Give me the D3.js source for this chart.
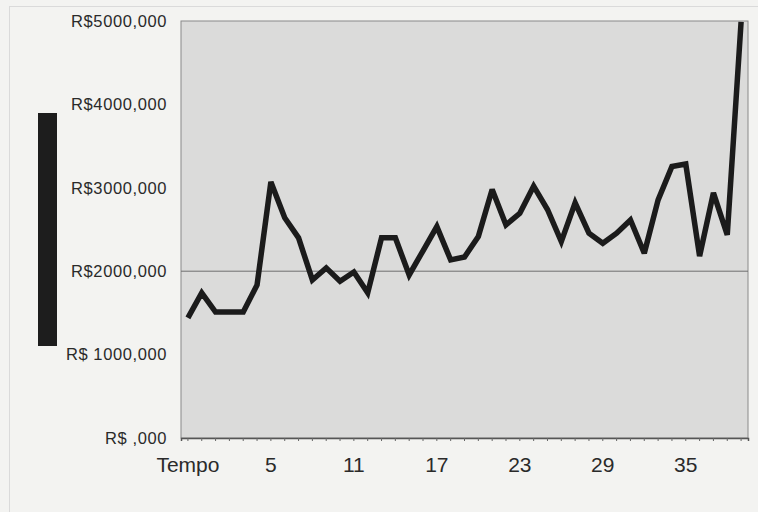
<!DOCTYPE html>
<html>
<head>
<meta charset="utf-8">
<script src="https://cdn.jsdelivr.net/npm/d3@7"></script>
<style>
    body { margin: 0; background: #f3f3f1; }
    svg { display: block; }
</style>
</head>
<body>
<div class="Canvas"></div>
<script>
// categories along the x axis (first one is the header cell that ended up in the range)
const categories = ['Tempo'].concat(d3.range(0, 40).map(String));
const shownLabels = ['Tempo', '5', '11', '17', '23', '29', '35'];

// values, one per category
const values = [
    1440, 1740, 1510, 1510, 1510, 1835, 3070, 2640, 2400, 1895,
    2040, 1880, 1990, 1740, 2400, 2400, 1955, 2245, 2535, 2135,
    2170, 2415, 2980, 2555, 2695, 3020, 2740, 2355, 2820, 2455,
    2335, 2455, 2615, 2215, 2855, 3255, 3285, 2180, 2940, 2435,
    4990,
];

const yTicks = [0, 1000, 2000, 3000, 4000, 5000];
const yTickLabels = ['R$ ,000', 'R$ 1000,000', 'R$2000,000', 'R$3000,000', 'R$4000,000', 'R$5000,000'];
const gridValues = [2000];

const width = 758;
const height = 512;
const plot = { left: 181, right: 748, top: 21, bottom: 438 };

let svg = d3.select('.Canvas').append('svg').attr('width', width).attr('height', height);

// faint outer frame of the chart object
svg.append('rect')
    .attr('x', 9.5)
    .attr('y', 6.5)
    .attr('width', width)
    .attr('height', height)
    .attr('fill', 'none')
    .attr('stroke', '#dadada');

// legend key with no text
svg.append('rect')
    .attr('x', 38)
    .attr('y', 113)
    .attr('width', 19)
    .attr('height', 233)
    .attr('fill', '#1d1d1d');

let x = d3.scaleBand().domain(categories).range([plot.left, plot.right]);
let y = d3.scaleLinear().domain([0, 5000]).range([plot.bottom, plot.top]);

let g = svg.append('g');

g.append('rect')
    .attr('x', plot.left)
    .attr('y', plot.top)
    .attr('width', plot.right - plot.left)
    .attr('height', plot.bottom - plot.top)
    .attr('fill', '#dbdbda')
    .attr('stroke', '#8a8a8a')
    .attr('stroke-width', 1);

g.selectAll('line.grid')
    .data(gridValues)
    .enter()
    .append('line')
    .attr('class', 'grid')
    .attr('x1', plot.left)
    .attr('x2', plot.right)
    .attr('y1', (d) => y(d))
    .attr('y2', (d) => y(d))
    .attr('stroke', '#6e6e6e')
    .attr('stroke-width', 1);

// y axis: labels only, the plot frame draws the line
let yAxis = d3
    .axisLeft(y)
    .tickValues(yTicks)
    .tickSize(0)
    .tickPadding(14)
    .tickFormat((d, i) => yTickLabels[i]);
let yg = g.append('g').attr('transform', `translate(${plot.left},0)`).call(yAxis);
yg.select('.domain').remove();
yg.selectAll('text')
    .attr('font-family', 'Liberation Sans, Arial, sans-serif')
    .attr('font-size', '16.5px')
    .attr('letter-spacing', '0.6px')
    .attr('fill', '#2a2a2a');

// x axis: tick per category, label every 6th
let xAxis = d3
    .axisBottom(x)
    .tickSize(3)
    .tickPadding(16)
    .tickFormat((d) => (shownLabels.includes(d) ? d : ''));
let xg = g.append('g').attr('transform', `translate(0,${plot.bottom})`).call(xAxis);
xg.select('.domain').attr('stroke', '#555').attr('stroke-width', 1.5);
xg.selectAll('.tick line').attr('stroke', '#666');
xg.selectAll('text')
    .attr('font-family', 'Liberation Sans, Arial, sans-serif')
    .attr('font-size', '21px')
    .attr('fill', '#2a2a2a');

let line = d3
    .line()
    .x((d, i) => x(categories[i]) + x.bandwidth() / 2)
    .y((d) => y(d));

g.append('path')
    .datum(values)
    .attr('d', line)
    .attr('fill', 'none')
    .attr('stroke', '#1b1b1b')
    .attr('stroke-width', 5.5)
    .attr('stroke-linejoin', 'miter')
    .attr('stroke-miterlimit', 3);
</script>
</body>
</html>
